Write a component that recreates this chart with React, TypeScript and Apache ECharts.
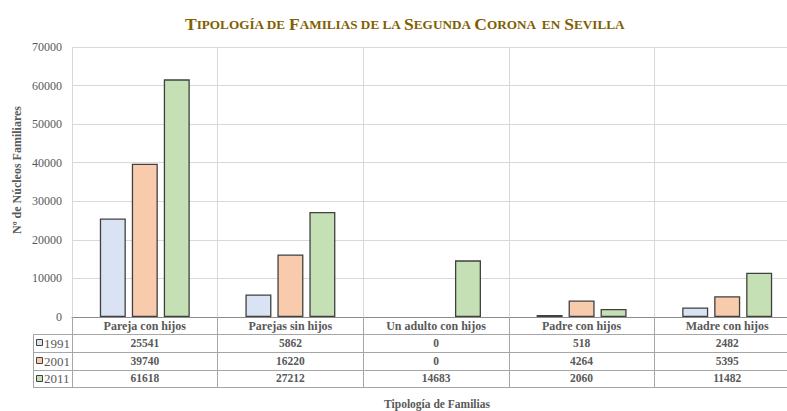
import React, { useEffect, useRef } from "react";
import * as echarts from "echarts";

const categories = ["Pareja con hijos", "Parejas sin hijos", "Un adulto con hijos", "Padre con hijos", "Madre con hijos"];
const years = ["1991", "2001", "2011"];
const v1991 = [25541, 5862, 0, 518, 2482];
const v2001 = [39740, 16220, 0, 4264, 5395];
const v2011 = [61618, 27212, 14683, 2060, 11482];
const colors = ["#DAE3F3", "#F8CBAD", "#C5E0B4"];
const yTicks = { min: 0, max: 70000, interval: 10000 };

const FONT = "Liberation Serif";
const GRAY = "#595959";
const LINE = "#A6A6A6";

export default function App() {
  const ref = useRef<HTMLDivElement>(null);
  useEffect(() => {
    if (!ref.current) return;
    const chart = echarts.init(ref.current, null, { renderer: "svg" });
    const W = 787, H = 411;
    const gridLeft = 72, gridTop = 47, gridBottom = 94, gridRight = -13;
    const axisY = H - gridBottom; // 317
    const rowH = 17.75;
    const all = [v1991, v2001, v2011];

    const graphic: any[] = [];
    for (let i = 1; i <= 4; i++) {
      const y = Math.round(axisY + 17 + (i - 1) * rowH) + 0.5;
      graphic.push({ type: "line", shape: { x1: 33, y1: y, x2: W, y2: y }, style: { stroke: LINE, lineWidth: 1 } });
    }
    graphic.push({ type: "line", shape: { x1: 33.5, y1: axisY + 17, x2: 33.5, y2: axisY + 17 + 3 * rowH }, style: { stroke: LINE, lineWidth: 1 } });
    years.forEach((yr, i) => {
      const cy = axisY + 17 + i * rowH + rowH / 2;
      graphic.push({ type: "rect", shape: { x: 36.5, y: Math.round(cy - 3.5) + 0.5, width: 6, height: 6 }, style: { fill: colors[i], stroke: "#404040", lineWidth: 1 } });
      graphic.push({ type: "text", x: 44, y: cy + 0.5, style: { text: yr, font: `13px '${FONT}'`, fill: GRAY, verticalAlign: "middle", align: "left" } });
    });
    graphic.push({
      type: "text",
      x: 17,
      y: 170,
      rotation: Math.PI / 2,
      style: { text: "Nº de Núcleos Familiares", font: `bold 12px '${FONT}'`, fill: GRAY, align: "center", verticalAlign: "middle" },
    });
    graphic.push({
      type: "text",
      x: 437,
      y: 404,
      style: { text: "Tipología de Familias", font: `bold 11.5px '${FONT}'`, fill: GRAY, align: "center", verticalAlign: "middle" },
    });

    const title =
      "{a|T}{b|IPOLOGÍA DE }{a|F}{b|AMILIAS DE LA }{a|S}{b|EGUNDA }{a|C}{b|ORONA  EN }{a|S}{b|EVILLA}";

    chart.setOption({
      animation: false,
      backgroundColor: "#ffffff",
      title: {
        text: title,
        left: 180,
        top: 10,
        textStyle: {
          rich: {
            a: { fontFamily: FONT, fontWeight: "bold", fontSize: 17.5, color: "#7F6000" },
            b: { fontFamily: FONT, fontWeight: "bold", fontSize: 13.2, color: "#7F6000" },
          },
        },
      },
      grid: { left: gridLeft, top: gridTop, bottom: gridBottom, right: gridRight, containLabel: false, outerBoundsMode: "none" },
      xAxis: {
        type: "category",
        data: categories,
        axisLine: { show: true, lineStyle: { color: "#8C8C8C", width: 1 } },
        axisTick: { show: true, interval: 0, length: 17 + 3 * rowH, lineStyle: { color: LINE, width: 1 } },
        splitLine: { show: true, interval: 0, lineStyle: { color: "#D9D9D9", width: 1 } },
        axisLabel: {
          interval: 0,
          margin: 0,
          verticalAlign: "top",
          formatter: (val: string, idx: number) =>
            `{h|${val}}\n` + all.map((arr) => `{v|${arr[idx]}}`).join("\n"),
          rich: {
            h: { fontFamily: FONT, fontWeight: "bold", fontSize: 12, color: GRAY, lineHeight: 17, align: "center" },
            v: { fontFamily: FONT, fontWeight: "bold", fontSize: 11.5, color: GRAY, lineHeight: rowH, align: "center" },
          },
        },
      },
      yAxis: {
        type: "value",
        min: yTicks.min,
        max: yTicks.max,
        interval: yTicks.interval,
        axisLine: { show: false },
        axisTick: { show: false },
        splitLine: { show: true, lineStyle: { color: "#D9D9D9", width: 1 } },
        axisLabel: { margin: 10, fontFamily: FONT, fontSize: 12, color: GRAY, formatter: (v: number) => String(v) },
      },
      series: years.map((yr, i) => ({
        name: yr,
        type: "bar",
        data: all[i].map((v) => (v === 0 ? { value: v, itemStyle: { borderWidth: 0 } } : v)),
        barWidth: 26,
        barGap: "23%",
        itemStyle: { color: colors[i], borderColor: "#404040", borderWidth: 1.3 },
      })),
      graphic,
    });
    return () => chart.dispose();
  }, []);
  return <div ref={ref} style={{ width: 787, height: 411, position: "absolute", left: 0, top: 0 }} />;
}
